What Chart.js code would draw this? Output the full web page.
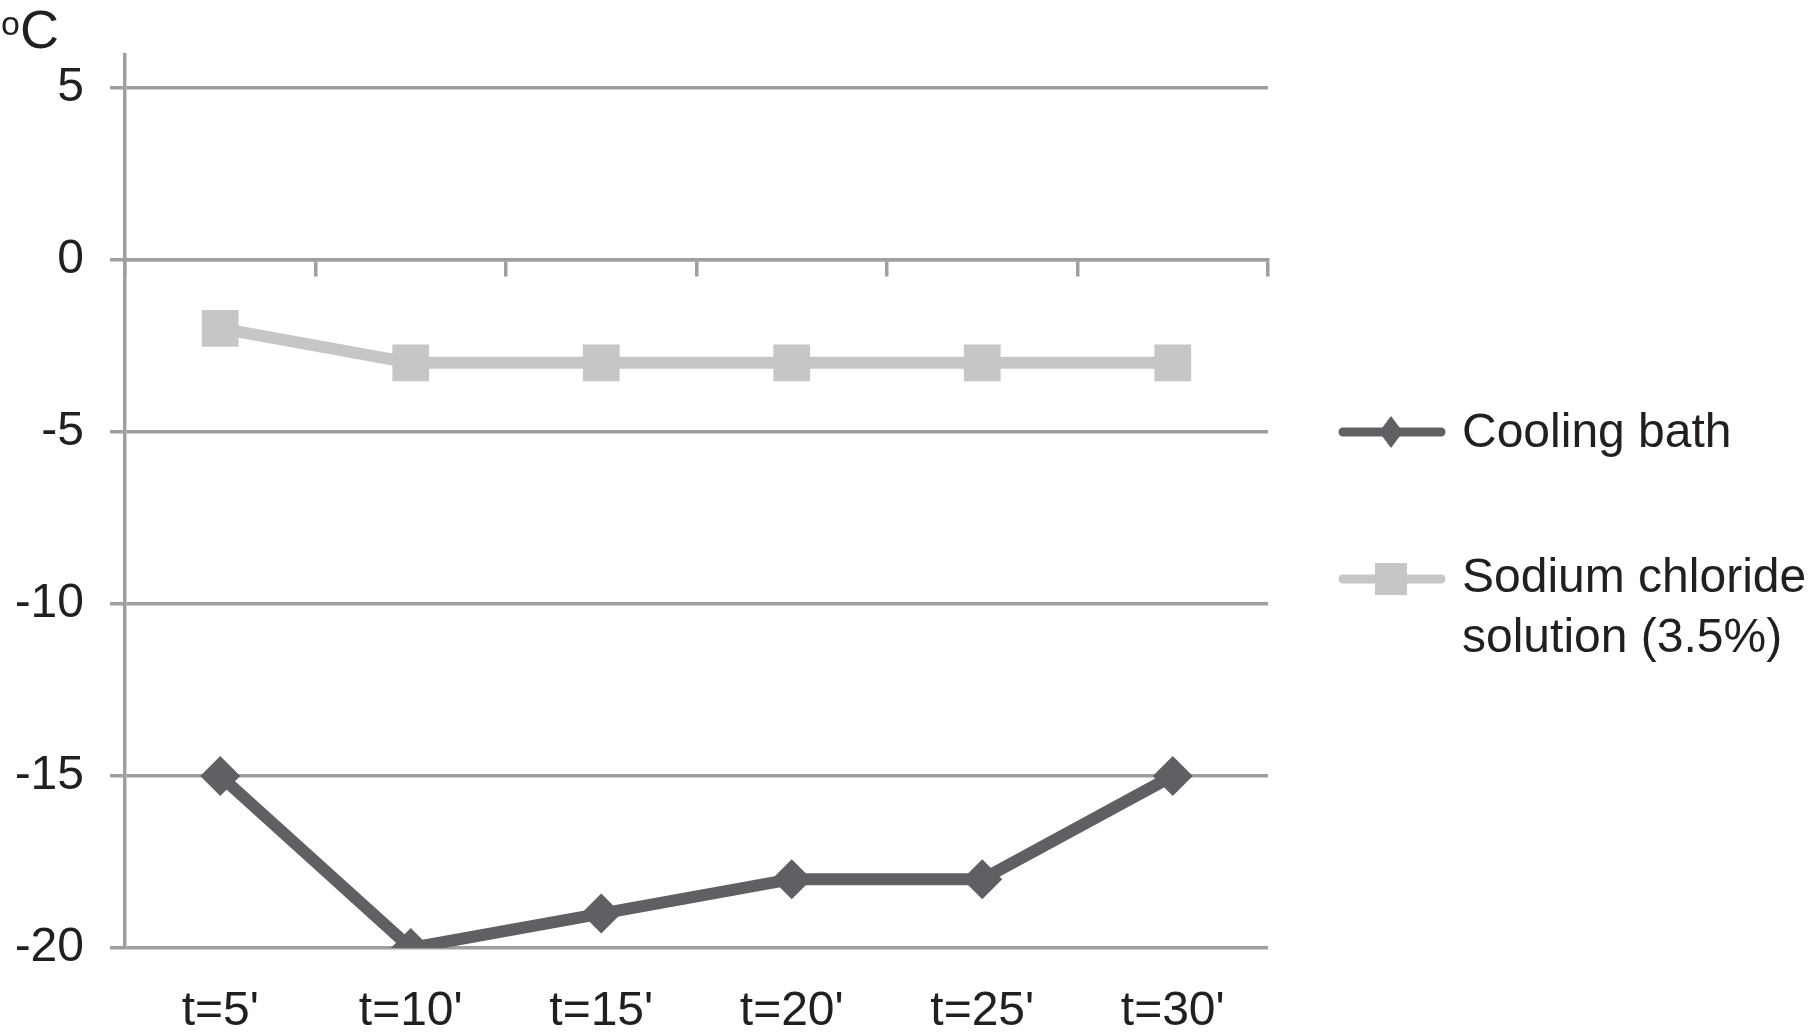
<!DOCTYPE html>
<html>
<head>
<meta charset="utf-8">
<script src="https://cdn.jsdelivr.net/npm/chart.js@4.4.1/dist/chart.umd.min.js"></script>
<style>
  html, body { margin: 0; padding: 0; background: #fff; }
</style>
</head>
<body>
<canvas id="chart" width="1808" height="1036"></canvas>
<script>
const categories = ["t=5'", "t=10'", "t=15'", "t=20'", "t=25'", "t=30'"];
const coolingBath = [-15, -20, -19, -18, -18, -15];
const sodiumChloride = [-2, -3, -3, -3, -3, -3];
const yTickValues = [5, 0, -5, -10, -15, -20];
const seriesNames = ["Cooling bath", ["Sodium chloride", "solution (3.5%)"]];

const FONT = "'Liberation Sans', Arial, sans-serif";
const textColor = "#231f20";
const gridColor = "#9e9fa1";
const darkGrey = "#5f6063";
const lightGrey = "#c5c6c8";

// legend with line + marker, drawn beside the plot
const sideLegend = {
  id: "sideLegend",
  afterDraw(chart) {
    const ctx = chart.ctx;
    const rows = [
      { ds: 0, lineY: 432, textY: [447] },
      { ds: 1, lineY: 579, textY: [592, 652] },
    ];
    ctx.save();
    rows.forEach((row) => {
      const ds = chart.data.datasets[row.ds];
      ctx.strokeStyle = ds.borderColor;
      ctx.lineWidth = 9;
      ctx.lineCap = "round";
      ctx.beginPath();
      ctx.moveTo(1343, row.lineY);
      ctx.lineTo(1441, row.lineY);
      ctx.stroke();
      ctx.fillStyle = ds.borderColor;
      if (ds.pointStyle === "rectRot") {
        ctx.beginPath();
        ctx.moveTo(1391, row.lineY - 16);
        ctx.lineTo(1403, row.lineY);
        ctx.lineTo(1391, row.lineY + 16);
        ctx.lineTo(1379, row.lineY);
        ctx.closePath();
        ctx.fill();
      } else {
        ctx.fillRect(1375, row.lineY - 16, 32, 32);
      }
      ctx.fillStyle = textColor;
      ctx.font = "48px " + FONT;
      ctx.textBaseline = "alphabetic";
      ctx.textAlign = "left";
      const lines = [].concat(ds.label);
      lines.forEach((t, i) => ctx.fillText(t, 1462, row.textY[i]));
    });
    // unit label
    ctx.font = "34px " + FONT;
    ctx.fillText("o", 1, 35);
    ctx.font = "54px " + FONT;
    ctx.fillText("C", 20, 48);
    ctx.restore();
  },
};

new Chart(document.querySelector("#chart"), {
  type: "line",
  data: {
    labels: categories,
    datasets: [
      {
        label: seriesNames[0],
        data: coolingBath,
        borderColor: darkGrey,
        backgroundColor: darkGrey,
        borderWidth: 12,
        pointStyle: "rectRot",
        pointRadius: 20,
        pointHoverRadius: 20,
        pointBorderWidth: 0,
        tension: 0,
      },
      {
        label: seriesNames[1],
        data: sodiumChloride,
        borderColor: lightGrey,
        backgroundColor: lightGrey,
        borderWidth: 12,
        pointStyle: "rect",
        pointRadius: 26,
        pointHoverRadius: 26,
        pointBorderWidth: 0,
        tension: 0,
      },
    ],
  },
  options: {
    responsive: false,
    devicePixelRatio: 1,
    animation: false,
    layout: { padding: { left: 17, right: 540, top: 54, bottom: 0 } },
    plugins: {
      legend: { display: false },
      tooltip: { enabled: false },
    },
    scales: {
      x: {
        type: "category",
        position: "bottom",
        offset: true,
        grid: { display: false, drawTicks: false },
        border: { display: false },
        afterFit: (axis) => { axis.height = 88; },
        ticks: {
          color: textColor,
          font: { family: FONT, size: 48, lineHeight: 1.0 },
          padding: 40,
          maxRotation: 0,
        },
      },
      xZero: {
        type: "category",
        labels: categories,
        position: { y: 0 },
        offset: true,
        grid: {
          offset: true,
          drawOnChartArea: false,
          color: gridColor,
          lineWidth: 3.5,
          tickLength: 15,
        },
        border: { color: gridColor, width: 3.5 },
        ticks: { display: false },
      },
      y: {
        min: -20,
        max: 5.95,
        afterBuildTicks: (axis) => {
          axis.ticks = yTickValues.map((v) => ({ value: v }));
        },
        afterFit: (axis) => { axis.width = 108; },
        grid: {
          color: gridColor,
          lineWidth: 3.5,
          tickLength: 15,
        },
        border: { color: gridColor, width: 3.5 },
        ticks: {
          color: textColor,
          font: { family: FONT, size: 48 },
          padding: 26,
        },
      },
    },
  },
  plugins: [sideLegend],
});
</script>
</body>
</html>
